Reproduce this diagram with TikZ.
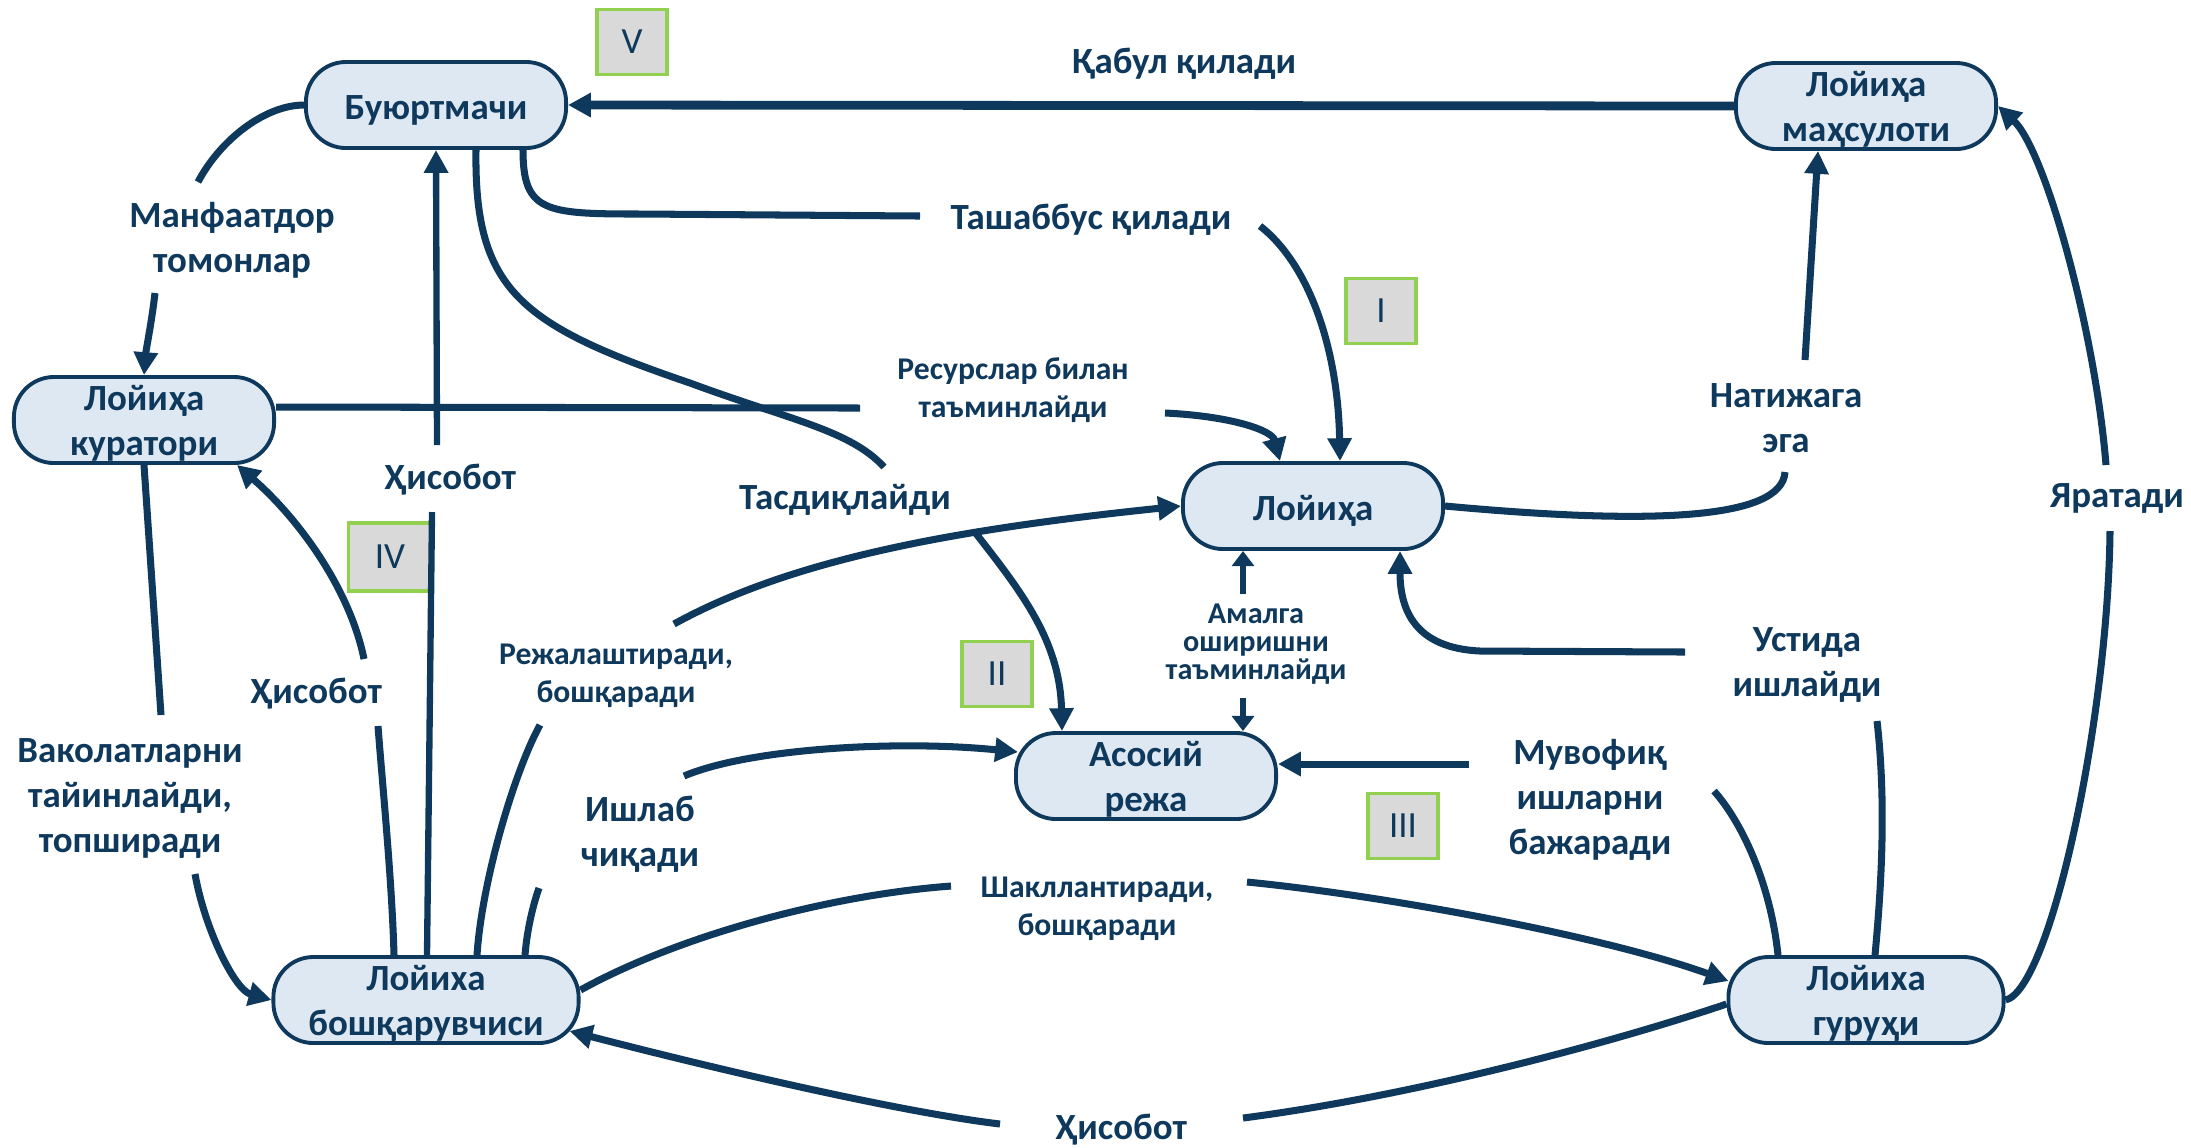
\documentclass[tikz,border=0pt]{standalone}
\usepackage{fontspec}
\setmainfont{Carlito}
\usepackage{tikz}
\usetikzlibrary{arrows.meta,positioning,calc}

\definecolor{navy}{RGB}{14,57,92}
\definecolor{boxfill}{RGB}{222,232,242}
\definecolor{numfill}{RGB}{217,217,217}
\definecolor{numline}{RGB}{146,208,80}

\newcommand{\upstrut}{\rule{0pt}{9.3pt}}

\begin{document}
\begin{tikzpicture}[x=0.01cm,y=-0.01cm,>={Triangle[length=6.5pt,width=6.6pt]},semithick]
			\tikzstyle{block}=[draw=navy,fill=boxfill,line width=1.1pt,rounded corners=0.4cm,minimum width=2.6cm,minimum height=0.86cm,inner sep=0pt,align=center,text=navy,font=\bfseries\fontsize{10.5}{12.8}\selectfont,execute at begin node={\rule{0pt}{10pt}}]
			\tikzstyle{roman}=[draw=numline,fill=numfill,line width=1.1pt,minimum width=0.7cm,minimum height=0.65cm,text=navy,font=\fontsize{10.5}{12}\selectfont]
			\tikzstyle{lbl}=[align=center,inner sep=0pt,text=navy,font=\bfseries\fontsize{10.5}{12.8}\selectfont]
			\tikzstyle{lblsmall}=[lbl,font=\bfseries\fontsize{9}{10.8}\selectfont]
			\tikzstyle{lbltiny}=[lbl,font=\bfseries\fontsize{8.6}{7.9}\selectfont]
			\tikzstyle{link}=[color=navy,line width=2pt]
			\tikzstyle{arr}=[link,->]
			\tikzstyle{arrsmall}=[link,line width=1.5pt,-{Triangle[length=4.3pt,width=6.2pt]}]
			
			\useasboundingbox (0,0) rectangle (2191,1147);
			
			\node[block]    (bu)   at (436,105)    {Буюртмачи};
			
			\node[block]    (mah)  at (1866,106)   {\upstrut Лойиҳа\\маҳсулоти};
			
			\node[block]    (kur)  at (144,420)    {\upstrut Лойиҳа\\куратори};
			
			\node[block]    (loy)  at (1313,506)   {Лойиҳа};
			
			\node[block]    (aso)  at (1146,776)   {\upstrut Асосий\\режа};
			
			\node[block, minimum width=3.05cm]    (bosh) at (426,1000)   {\upstrut Лойиха\\бошқарувчиси};
			
			\node[block, minimum width=2.75cm]    (gur)  at (1866,1000)  {\upstrut Лойиха\\гуруҳи};
			
			% labels
			\node[lbl]        (lkab)  at (1184,64)   {Қабул қилади};
			\node[lbl]        (lman)  at (232,240)   {Манфаатдор\\томонлар};
			\node[lbl]        (ltash) at (1091,220)  {Ташаббус қилади};
			\node[lblsmall]   (lres)  at (1013,390)  {Ресурслар билан\\таъминлайди};
			\node[lbl]        (lnat)  at (1786,418)  {Натижага\\эга};
			\node[lbl]        (lyar)  at (2117,498)  {Яратади};
			\node[lbl]        (lhis1) at (450,480)   {Ҳисобот};
			\node[lbl]        (ltas)  at (845,500)   {Тасдиқлайди};
			\node[lbl]        (lhis2) at (316,694)   {Ҳисобот};
			\node[lblsmall]   (lrej)  at (616,676)   {Режалаштиради,\\бошқаради};
			\node[lbl]        (lvak)  at (130,798)   {Ваколатларни\\тайинлайди,\\топширади};
			\node[lbl]        (lish)  at (640,834)   {Ишлаб\\чиқади};
			\node[lbltiny]    (lama)  at (1256,644)  {Амалга\\оширишни\\таъминлайди};
			\node[lbl]        (lust)  at (1807,665)  {Устида\\ишлайди};
			\node[lbl]        (lmuv)  at (1590,800)  {Мувофиқ\\ишларни\\бажаради};
			\node[lblsmall]   (lshak) at (1097,909)  {Шакллантиради,\\бошқаради};
			\node[lbl]        (lhis3) at (1121,1130) {Ҳисобот};
			
			% stages
			\node[roman]    (nV)   at (632,42)    {V};
			\node[roman]    (nI)   at (1381,311)  {I};
			\node[roman, minimum width=0.83cm, minimum height=0.68cm]    (nIV)  at (390,557)   {IV};
			\node[roman]    (nII)  at (997,674)   {II};
			\node[roman]    (nIII) at (1403,826)  {III};
			
			\draw[arr, line width=2.5pt] (mah.west) -- (bu.east);
			
			\draw[link] (bu.west) .. controls (265,105) and (220,140) .. ($(lman.center)+(-34,-58)$);
			\draw[arr] ($(lman.center)+(-77,53)$) .. controls (152,320) and (146,350) .. (kur.north);
			
			\draw[link] ($(bu.south)+(87,0)$) .. controls (523,212) and (545,214) .. (640,214) -- ($(ltash.center)+(-171,-4)$);
			\draw[arr] ($(ltash.center)+(169,6)$) .. controls (1310,265) and (1338,350) .. ($(loy.north)+(27,0)$);
			
			\draw[link] ($(bu.south)+(40,0)$) .. controls (474,290) and (520,325) .. (690,383) .. controls (790,420) and (850,430) .. ($(ltas.center)+(39,-33)$);
			\draw[arr] ($(ltas.center)+(129,31)$) .. controls (1020,590) and (1060,640) .. ($(aso.north)+(-84,0)$);
			
			\draw[link] ($(kur.east)+(0,-13)$) -- ($(lres.center)+(-153,18)$);
			\draw[arr] ($(lres.center)+(152,23)$) .. controls (1230,416) and (1272,430) .. ($(loy.north)+(-33,0)$);
			
			\draw[link] (loy.east) .. controls (1650,525) and (1782,520) .. ($(lnat.center)+(-1,54)$);
			\draw[arr] ($(lnat.center)+(19,-58)$) -- ($(mah.south)+(-48,0)$);
			
			\draw[link] (gur.east) .. controls (2050,990) and (2108,720) .. ($(lyar.center)+(-7,33)$);
			\draw[arr] ($(lyar.center)+(-11,-33)$) .. controls (2095,330) and (2045,150) .. (mah.east);
			
			\draw[link, line width=1.8pt] ($(bosh.north)+(1,0)$) -- ($(lhis1.center)+(-18,32)$);
			\draw[arr, line width=1.8pt] ($(lhis1.center)+(-13,-35)$) -- (bu.south);
			
			\draw[link] ($(bosh.north)+(-32,0)$) .. controls (392,880) and (382,780) .. ($(lhis2.center)+(62,32)$);
			\draw[arr] ($(lhis2.center)+(48,-35)$) .. controls (350,590) and (300,520) .. ($(kur.south east)+(-39,0)$);
			
			\draw[link] (kur.south) -- ($(lvak.center)+(31,-83)$);
			\draw[arr] ($(lvak.center)+(65,76)$) .. controls (205,930) and (235,990) .. (bosh.west);
			
			\draw[link] ($(bosh.north)+(51,0)$) .. controls (482,880) and (515,770) .. ($(lrej.center)+(-76,49)$);
			\draw[arr] ($(lrej.center)+(58,-52)$) .. controls (790,560) and (950,530) .. (loy.west);
			
			\draw[link] ($(bosh.north)+(99,0)$) .. controls (527,930) and (533,905) .. ($(lish.center)+(-101,54)$);
			\draw[arr] ($(lish.center)+(44,-58)$) .. controls (750,748) and (900,740) .. ($(aso.west)+(4,-24)$);
			
			\draw[link] ($(bosh.east)+(0,-10)$) .. controls (680,935) and (830,895) .. ($(lshak.center)+(-146,-23)$);
			\draw[arr] ($(lshak.center)+(150,-27)$) .. controls (1380,895) and (1600,935) .. ($(gur.west)+(2,-19)$);
			
			\draw[link] ($(gur.west)+(0,4)$) .. controls (1620,1040) and (1420,1095) .. ($(lhis3.center)+(122,-12)$);
			\draw[arr] ($(lhis3.center)+(-121,-6)$) .. controls (900,1112) and (720,1070) .. ($(bosh.east)+(-11,31)$);
			
			\draw[link] ($(gur.north)+(9,0)$) .. controls (1882,880) and (1886,800) .. ($(lust.center)+(70,56)$);
			\draw[arr] ($(lust.center)+(-122,-13)$) -- (1480,651) .. controls (1415,648) and (1400,610) .. ($(loy.south)+(87,0)$);
			
			\draw[link] ($(gur.north)+(-88,0)$) .. controls (1770,880) and (1740,820) .. ($(lmuv.center)+(124,-9)$);
			\draw[arr] ($(lmuv.center)+(-121,-36)$) -- ($(aso.east)+(0,-12)$);
			
			\draw[arrsmall] ($(lama.center)+(-13,-50)$) -- ($(loy.south)+(-70,0)$);
			\draw[arrsmall] ($(lama.center)+(-13,54)$) -- ($(aso.north)+(97,0)$);
			
\end{tikzpicture}
\end{document}
